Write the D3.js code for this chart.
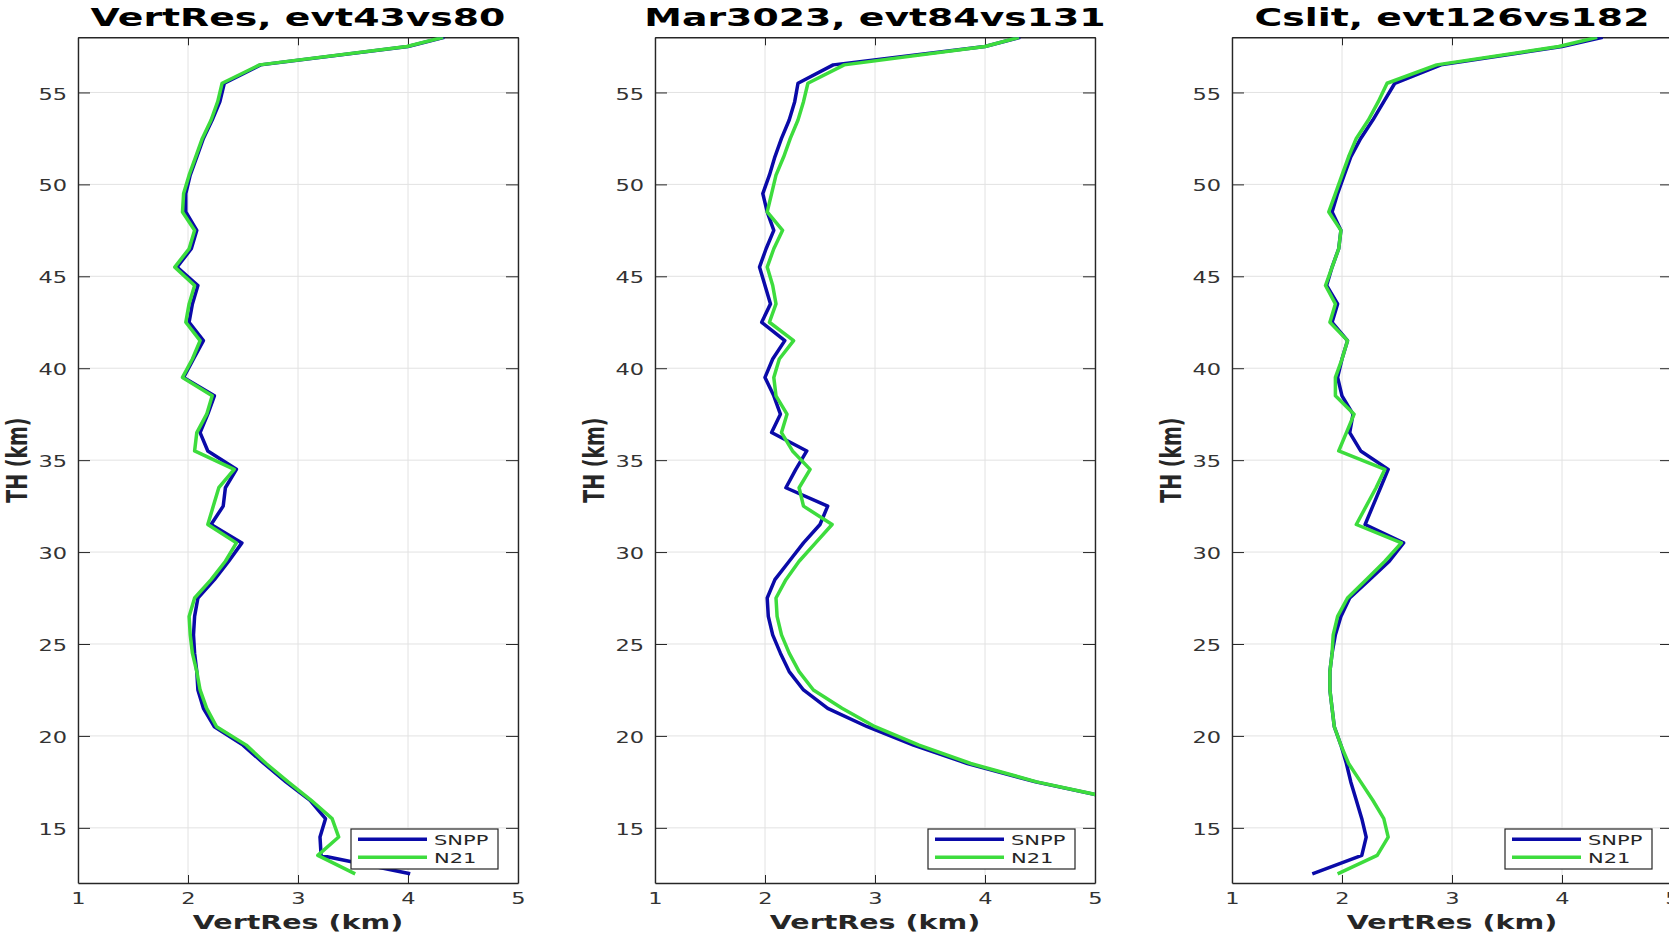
<!DOCTYPE html>
<html>
<head>
<meta charset="utf-8">
<script src="https://cdn.jsdelivr.net/npm/d3@7"></script>
<style>
body { margin: 0; background: #fff; }
text { font-family: "DejaVu Sans", sans-serif; }
</style>
</head>
<body>
<div id="chart"></div>
<script>
// Tangent heights (km), top of profile first
var heights = [58, 57.5, 56.5, 55.5, 54.5, 53.5, 52.5, 51.5, 50.5, 49.5,
    48.5, 47.5, 46.5, 45.5, 44.5, 43.5, 42.5, 41.5, 40.5, 39.5,
    38.5, 37.5, 36.5, 35.5, 34.5, 33.5, 32.5, 31.5, 30.5, 29.5,
    28.5, 27.5, 26.5, 25.5, 24.5, 23.5, 22.5, 21.5, 20.5, 19.5,
    18.5, 17.5, 16.5, 15.5, 14.5, 13.5, 12.5];

var titles = ["VertRes, evt43vs80", "Mar3023, evt84vs131", "Cslit, evt126vs182"];
var seriesNames = ["SNPP", "N21"];
var xTickValues = [1, 2, 3, 4, 5];
var yTickValues = [15, 20, 25, 30, 35, 40, 45, 50, 55];

// VertRes (km) per panel
var snppA = [4.33, 4.0, 2.66, 2.33, 2.29, 2.22, 2.14, 2.08, 2.02, 1.98,
    1.98, 2.08, 2.03, 1.90, 2.09, 2.04, 2.01, 2.14, 2.05, 1.96,
    2.24, 2.18, 2.11, 2.18, 2.44, 2.34, 2.32, 2.21, 2.49, 2.37,
    2.24, 2.09, 2.06, 2.05, 2.06, 2.08, 2.09, 2.14, 2.24, 2.50,
    2.69, 2.89, 3.11, 3.25, 3.20, 3.21, 4.02];
var n21A = [4.32, 3.99, 2.65, 2.31, 2.27, 2.21, 2.13, 2.07, 2.01, 1.96,
    1.95, 2.06, 2.01, 1.88, 2.06, 2.01, 1.98, 2.11, 2.04, 1.95,
    2.22, 2.17, 2.08, 2.06, 2.42, 2.28, 2.23, 2.18, 2.44, 2.34,
    2.21, 2.06, 2.01, 2.02, 2.04, 2.08, 2.11, 2.17, 2.26, 2.53,
    2.71, 2.91, 3.12, 3.31, 3.37, 3.18, 3.52];

var snppB = [4.32, 4.0, 2.62, 2.30, 2.27, 2.22, 2.15, 2.09, 2.04, 1.98,
    2.02, 2.08, 2.01, 1.95, 2.00, 2.05, 1.97, 2.18, 2.07, 2.00,
    2.08, 2.14, 2.06, 2.38, 2.28, 2.19, 2.57, 2.50, 2.35, 2.22,
    2.09, 2.02, 2.03, 2.07, 2.14, 2.22, 2.35, 2.57, 2.93, 3.35,
    3.84, 4.46, 5.25];
var n21B = [4.31, 4.0, 2.72, 2.39, 2.35, 2.30, 2.23, 2.17, 2.10, 2.06,
    2.02, 2.16, 2.08, 2.02, 2.07, 2.10, 2.04, 2.26, 2.13, 2.08,
    2.10, 2.20, 2.15, 2.25, 2.41, 2.31, 2.35, 2.61, 2.46, 2.31,
    2.19, 2.10, 2.11, 2.15, 2.22, 2.31, 2.44, 2.70, 3.00, 3.40,
    3.87, 4.47, 5.25];

var snppC = [4.37, 4.0, 2.90, 2.48, 2.38, 2.28, 2.17, 2.08, 2.02, 1.96,
    1.91, 1.99, 1.97, 1.91, 1.86, 1.96, 1.91, 2.05, 2.00, 1.96,
    2.00, 2.10, 2.07, 2.17, 2.42, 2.35, 2.28, 2.21, 2.56, 2.43,
    2.25, 2.07, 1.99, 1.94, 1.91, 1.89, 1.89, 1.91, 1.93, 1.99,
    2.04, 2.08, 2.13, 2.18, 2.22, 2.18, 1.73];
var n21C = [4.32, 3.97, 2.86, 2.41, 2.33, 2.24, 2.13, 2.06, 2.00, 1.94,
    1.88, 1.99, 1.97, 1.91, 1.85, 1.94, 1.89, 2.05, 2.00, 1.94,
    1.94, 2.11, 2.04, 1.97, 2.39, 2.31, 2.22, 2.13, 2.54, 2.39,
    2.22, 2.05, 1.96, 1.92, 1.91, 1.89, 1.89, 1.91, 1.93, 1.99,
    2.06, 2.17, 2.28, 2.38, 2.42, 2.32, 1.96];

var panelSeries = [[snppA, n21A], [snppB, n21B], [snppC, n21C]];
var colors = ["#0a0aa8", "#3ddc3d"];

var width = 1669;
var height = 937;
var panelLeft = [78, 655, 1232];
var plotTop = 37.3;
var plotW = 440;
var plotH = 845.7;
var stretch = 1.5; // the figure text is horizontally widened

var svg = d3.select("#chart")
    .append("svg")
    .attr("width", width)
    .attr("height", height);

var x = d3.scaleLinear().domain([1, 5]).range([0, plotW]);
var y = d3.scaleLinear().domain([12, 58]).range([plotH, 0]);

var line = d3.line()
    .x(function(d) { return x(d); })
    .y(function(d, i) { return y(heights[i]); });

function place(sel, px, py, rot) {
    return sel.attr("transform", "translate(" + px + "," + py + ") scale(" + stretch + ",1)" + (rot ? " rotate(" + rot + ")" : ""));
}

titles.forEach(function(title, p) {
    var g = svg.append("g")
        .attr("transform", "translate(" + panelLeft[p] + "," + plotTop + ")");

    g.append("clipPath")
        .attr("id", "clip" + p)
        .append("rect")
        .attr("width", plotW)
        .attr("height", plotH);

    // grid
    g.append("g").selectAll("line")
        .data(xTickValues)
        .enter().append("line")
        .attr("x1", function(d) { return x(d); })
        .attr("x2", function(d) { return x(d); })
        .attr("y1", 0).attr("y2", plotH)
        .attr("stroke", "#e2e2e2");
    g.append("g").selectAll("line")
        .data(yTickValues)
        .enter().append("line")
        .attr("y1", function(d) { return y(d); })
        .attr("y2", function(d) { return y(d); })
        .attr("x1", 0).attr("x2", plotW)
        .attr("stroke", "#e2e2e2");

    // axes, ticks pointing in
    var xb = g.append("g")
        .attr("transform", "translate(0," + plotH + ")")
        .attr("color", "#262626")
        .call(d3.axisBottom(x).tickValues(xTickValues).tickFormat(d3.format("d"))
            .tickSizeInner(-8).tickSizeOuter(0).tickPadding(10));
    g.append("g")
        .attr("color", "#262626")
        .call(d3.axisTop(x).tickValues(xTickValues).tickSizeInner(-8).tickSizeOuter(0).tickFormat(""));
    var yl = g.append("g")
        .attr("color", "#262626")
        .call(d3.axisLeft(y).tickValues(yTickValues).tickSizeInner(-12).tickSizeOuter(0).tickPadding(7.3));
    g.append("g")
        .attr("transform", "translate(" + plotW + ",0)")
        .attr("color", "#262626")
        .call(d3.axisRight(y).tickValues(yTickValues).tickSizeInner(-12).tickSizeOuter(0).tickFormat(""));

    g.selectAll(".domain").attr("stroke-width", 1.4);

    xb.selectAll("text")
        .attr("font-size", 15)
        .attr("font-family", "DejaVu Sans")
        .attr("fill", "#333")
        .attr("transform", "scale(" + stretch + ",1)");
    yl.selectAll("text")
        .attr("font-size", 15)
        .attr("font-family", "DejaVu Sans")
        .attr("fill", "#333")
        .attr("dy", "0.44em")
        .attr("transform", "scale(" + stretch + ",1)");

    // profiles
    g.append("g")
        .attr("clip-path", "url(#clip" + p + ")")
        .selectAll("path")
        .data(panelSeries[p])
        .enter().append("path")
        .attr("d", line)
        .attr("fill", "none")
        .attr("stroke", function(d, i) { return colors[i]; })
        .attr("stroke-width", 3.5)
        .attr("stroke-linejoin", "round");

    // labels
    place(g.append("text"), plotW / 2, -11.3)
        .attr("text-anchor", "middle")
        .attr("font-size", 25.2)
        .attr("font-weight", "bold")
        .text(title);
    place(g.append("text"), plotW / 2, 891.7)
        .attr("text-anchor", "middle")
        .attr("font-size", 19)
        .attr("font-weight", "bold")
        .attr("fill", "#262626")
        .text("VertRes (km)");
    place(g.append("text"), -51.5, plotH / 2, -90)
        .attr("text-anchor", "middle")
        .attr("font-size", 19)
        .attr("font-weight", "bold")
        .attr("fill", "#262626")
        .text("TH (km)");

    // legend
    var lg = g.append("g")
        .attr("transform", "translate(" + (plotW - 20 - 147) + "," + (plotH - 14 - 40) + ")");
    lg.append("rect")
        .attr("width", 147)
        .attr("height", 40)
        .attr("fill", "#fff")
        .attr("stroke", "#262626")
        .attr("stroke-width", 1.2);
    seriesNames.forEach(function(name, i) {
        lg.append("line")
            .attr("x1", 7).attr("x2", 76)
            .attr("y1", 10.3 + i * 18).attr("y2", 10.3 + i * 18)
            .attr("stroke", colors[i])
            .attr("stroke-width", 3.5);
        place(lg.append("text"), 83, 15.5 + i * 18)
            .attr("font-size", 14)
            .attr("fill", "#262626")
            .text(name);
    });
});
</script>
</body>
</html>
